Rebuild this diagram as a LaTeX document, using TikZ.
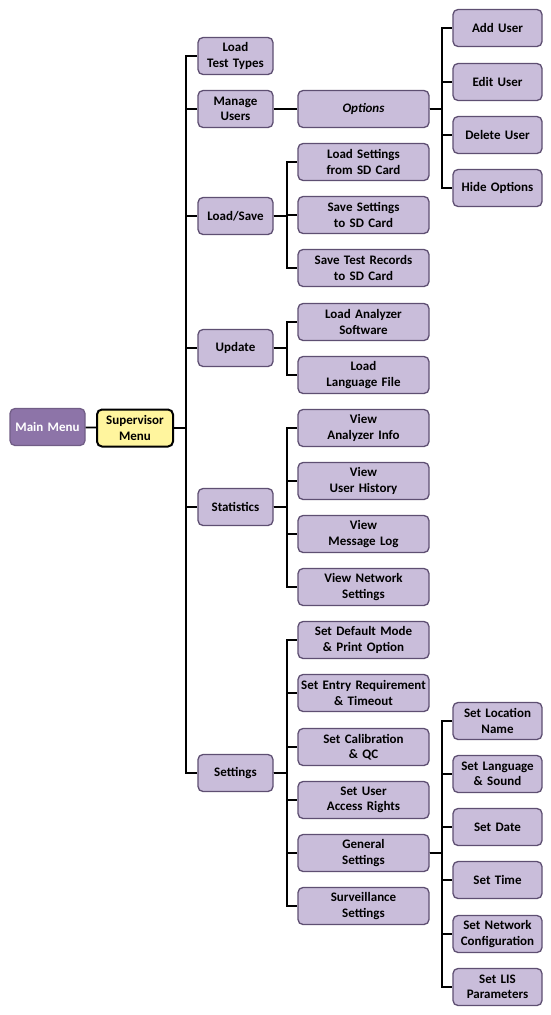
\documentclass[tikz,border=0pt]{standalone}
\usepackage{fontspec}
\setmainfont{Carlito}
\usetikzlibrary{positioning}
\definecolor{boxfill}{HTML}{C9BDDA}
\definecolor{boxline}{HTML}{5E4F72}
\definecolor{mainfill}{HTML}{8D74A8}
\definecolor{supfill}{HTML}{FFF59E}
\tikzset{
  menubox/.style  = {draw=boxline, line width=1.3pt, rounded corners=5pt,
                     fill=boxfill, align=center, inner sep=1pt,
                     font=\bfseries\fontsize{13}{15.5}\selectfont,
                     minimum height=37pt},
  lvlone/.style   = {menubox, minimum width=75pt, text width=73pt},
  lvltwo/.style   = {menubox, minimum width=131pt, text width=129pt},
  lvlthree/.style = {menubox, minimum width=89pt, text width=87pt},
  link/.style     = {-, line width=1.8pt, black},
}

\begin{document}
\begin{tikzpicture}[x=1pt, y=-1pt]
    \useasboundingbox (0,0) rectangle (551,1015);

    % --- root ---
    \node[menubox, fill=mainfill, draw=mainfill!80!black, text=white,
          minimum width=75pt, text width=73pt] (main) at (47.5,427) {Main Menu};
    \node[menubox, fill=supfill, draw=black, line width=2pt,
          minimum width=76pt, text width=74pt] (sup) at (135,428)
          {Supervisor\\Menu};
    \draw[link] (main) -- (sup);

    % --- first level ---
    \foreach \name/\y/\txt in {types/56/{Load\\Test Types},
                               users/109/{Manage\\Users},
                               loadsave/216/{Load/Save},
                               update/348/{Update},
                               stats/507/{Statistics},
                               settings/773/{Settings}}{
      \node[lvlone] (\name) at (235.5,\y) {\txt};
      \draw[link] (sup.east) -- ++(12,0) |- (\name.west);
    }

    % --- second level ---
    \node[lvltwo, font=\bfseries\itshape\fontsize{13}{15.5}\selectfont]
      (opts) at (363.5,109) {Options};
    \draw[link] (users) -- (opts);

    \foreach \name/\y/\txt/\parent in {
        ldsd/162/{Load Settings\\from SD Card}/loadsave,
        svsd/215/{Save Settings\\to SD Card}/loadsave,
        svrec/268/{Save Test Records\\to SD Card}/loadsave,
        ldsw/322/{Load Analyzer\\Software}/update,
        ldlang/375/{Load\\Language File}/update,
        vinfo/428/{View\\Analyzer Info}/stats,
        vhist/481/{View\\User History}/stats,
        vlog/534/{View\\Message Log}/stats,
        vnet/587/{View Network\\Settings}/stats,
        defmode/640/{Set Default Mode\\\& Print Option}/settings,
        entry/693/{Set Entry Requirement\\\& Timeout}/settings,
        calib/747/{Set Calibration\\\& QC}/settings,
        access/800/{Set User\\Access Rights}/settings,
        general/853/{General\\Settings}/settings,
        surv/906/{Surveillance\\Settings}/settings}{
      \node[lvltwo] (\name) at (363.5,\y) {\txt};
      \draw[link] (\parent.east) -- ++(13,0) |- (\name.west);
    }

    % --- third level ---
    \foreach \name/\y/\txt/\parent in {
        add/28/{Add User}/opts,
        edit/82/{Edit User}/opts,
        delete/135/{Delete User}/opts,
        hide/188/{Hide Options}/opts,
        location/721/{Set Location\\Name}/general,
        language/774/{Set Language\\\& Sound}/general,
        date/827/{Set Date}/general,
        time/880/{Set Time}/general,
        network/934/{Set Network\\Configuration}/general,
        lis/987/{Set LIS\\Parameters}/general}{
      \node[lvlthree] (\name) at (497.5,\y) {\txt};
      \draw[link] (\parent.east) -- ++(12,0) |- (\name.west);
    }
  \end{tikzpicture}
\end{document}
